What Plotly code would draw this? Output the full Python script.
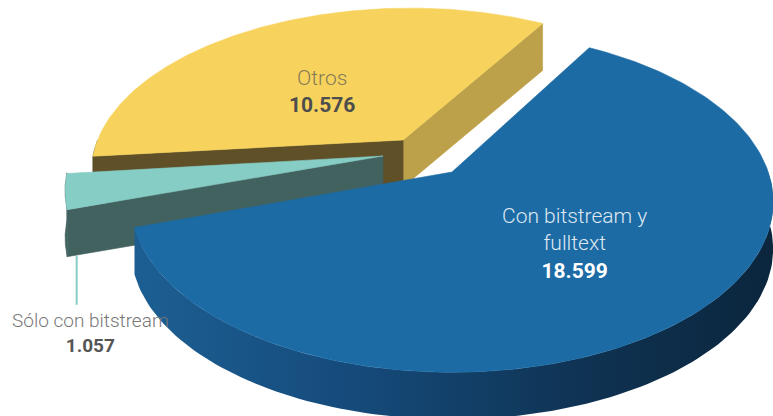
import numpy as np
import plotly.graph_objects as go

# ---------------- data ----------------
categories = ["Otros", "Sólo con bitstream", "Con bitstream y fulltext"]
values = [10576, 1057, 18599]
value_labels = ["10.576", "1.057", "18.599"]

# ---------------- geometry / style (not data) ----------------
W, H = 773, 416
START_DEG = 60.0            # angle where the first slice starts (counter-clockwise)
CX, CY = 452.0, 172.0       # screen position of pie centre
F, D = 1540.0, 4.87         # perspective focal length / camera distance
PHI = np.radians(31.5)      # tilt
SPHI, CPHI = np.sin(PHI), np.cos(PHI)
THICK = 47.0                # wall height in px
explode = [(-0.160, 0.2006), (-0.222, 0.0985), (0.0, 0.0)]
top_col = ["#f7d35e", "#86cdc6", "#1c6ba5"]
start_face_col = ["#bda14a", "#42625f", "#1b5c8e"]
end_face_col = ["#5f5027", "#42625f", "#1b5c8e"]
rim_col = ["#5f5027", "#42625f", None]
blue_wall_scale = [[0, "#1d5f93"], [0.35, "#154a7a"], [0.7, "#0f3353"], [1, "#0b263d"]]


def proj(u, v):
    u = np.asarray(u, float)
    v = np.asarray(v, float)
    z = D + v * CPHI
    return CX + F * u / z, CY - F * v * SPHI / z


fig = go.Figure()


def poly(xs, ys, color=None, gradient=None):
    xs = list(xs) + [xs[0]]
    ys = list(ys) + [ys[0]]
    kw = dict(x=xs, y=ys, mode="lines", fill="toself", hoverinfo="skip",
              showlegend=False)
    if gradient is not None:
        kw["fillgradient"] = dict(type="horizontal", colorscale=gradient)
        kw["line"] = dict(width=0)
    else:
        kw["fillcolor"] = color
        kw["line"] = dict(color=color, width=0.6)
    fig.add_trace(go.Scatter(**kw))


total = float(sum(values))
angles = []
a0 = START_DEG
for v in values:
    a1 = a0 + v / total * 360.0
    angles.append((a0, a1))
    a0 = a1

label_pos = []
for i, (cat, (s, e)) in enumerate(zip(categories, angles)):
    ou, ov = explode[i]
    # --- outer rim wall (front half only) ---
    segs = []
    for lo, hi in [(-180, 0), (180, 360), (540, 720)]:
        a, b = max(s, lo), min(e, hi)
        if b > a:
            segs.append((a, b))
    for a, b in segs:
        th = np.radians(np.linspace(a, b, 120))
        x, y = proj(ou + np.cos(th), ov + np.sin(th))
        xs = list(x) + list(x[::-1])
        ys = list(y) + list((y + THICK)[::-1])
        if rim_col[i] is None:
            poly(xs, ys, gradient=blue_wall_scale)
        else:
            poly(xs, ys, color=rim_col[i])
    # --- cut faces ---
    px, py = proj(ou, ov)
    for ang, normal, col in [(s, s - 90, start_face_col[i]), (e, e + 90, end_face_col[i])]:
        if np.sin(np.radians(normal)) < 0:
            qx, qy = proj(ou + np.cos(np.radians(ang)), ov + np.sin(np.radians(ang)))
            poly([px, qx, qx, px], [py, qy, qy + THICK, py + THICK], color=col)
    # --- top face ---
    th = np.radians(np.linspace(s, e, 200))
    x, y = proj(ou + np.cos(th), ov + np.sin(th))
    poly([px] + list(x), [py] + list(y), color=top_col[i])
    mid = np.radians((s + e) / 2)
    label_pos.append((ou, ov, mid))

FONT = "Roboto, Lato, sans-serif"

# Otros label (inside)
ou, ov, mid = label_pos[0]
lx, ly = proj(ou + 0.55 * np.cos(mid), ov + 0.55 * np.sin(mid))
fig.add_annotation(x=float(lx), y=float(ly) + 18, xref="x", yref="y", showarrow=False,
                   text=f"<span style='color:#857a55'>{categories[0]}</span><br>"
                        f"<b>{value_labels[0]}</b>",
                   font=dict(family=FONT, size=21, color="#4d4d4d", weight=300), align="center")

# Con bitstream label (inside)
ou, ov, mid = label_pos[2]
lx, ly = proj(ou + 0.55 * np.cos(mid), ov + 0.55 * np.sin(mid))
fig.add_annotation(x=float(lx) + 4, y=float(ly) - 5, xref="x", yref="y", showarrow=False,
                   text="<span style='color:#dfe8f1'>Con bitstream y<br>fulltext</span><br>"
                        f"<b>{value_labels[2]}</b>",
                   font=dict(family=FONT, size=21, color="#ffffff", weight=300), align="center")

# Sólo con bitstream label (outside with leader line)
ou, ov, mid = label_pos[1]
s, e = angles[1]
rx, ry = proj(ou + np.cos(np.radians(e - 3)), ov + np.sin(np.radians(e - 3)))
rx, ry = float(rx) + 11, float(ry) + THICK
fig.add_trace(go.Scatter(x=[rx, rx], y=[ry + 8, ry + 57], mode="lines",
                         line=dict(color="#86cdc6", width=2), hoverinfo="skip", showlegend=False))
fig.add_annotation(x=rx + 14, y=ry + 85, xref="x", yref="y", showarrow=False,
                   text=f"<span style='color:#777777'>{categories[1]}</span><br>"
                        f"<b>{value_labels[1]}</b>",
                   font=dict(family=FONT, size=19, color="#555555", weight=300), align="center")

fig.update_layout(
    width=W, height=H, margin=dict(l=0, r=0, t=0, b=0),
    paper_bgcolor="white", plot_bgcolor="white",
    xaxis=dict(range=[0, W], visible=False, fixedrange=True),
    yaxis=dict(range=[H, 0], visible=False, fixedrange=True),
    showlegend=False,
)
fig.write_html("out.html", config={"displayModeBar": False, "staticPlot": True},
               post_script="document.body.style.margin='0';document.body.style.overflow='hidden';")
